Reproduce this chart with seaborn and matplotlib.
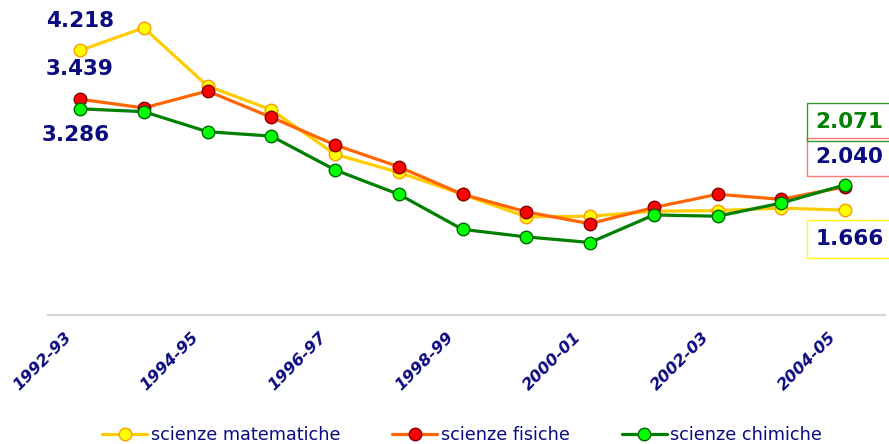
import numpy as np
import pandas as pd
import matplotlib
matplotlib.use("Agg")
import matplotlib.pyplot as plt
import matplotlib.transforms as mtransforms
import seaborn as sns

years = ["1992-93", "1993-94", "1994-95", "1995-96", "1996-97", "1997-98", "1998-99",
         "1999-00", "2000-01", "2001-02", "2002-03", "2003-04", "2004-05"]
matematiche = [4.218, 4.58, 3.65, 3.27, 2.56, 2.27, 1.92, 1.56, 1.57, 1.65, 1.66, 1.70, 1.666]
fisiche = [3.439, 3.30, 3.57, 3.15, 2.71, 2.36, 1.92, 1.64, 1.45, 1.71, 1.92, 1.84, 2.040]
chimiche = [3.286, 3.24, 2.92, 2.85, 2.31, 1.92, 1.36, 1.24, 1.15, 1.59, 1.57, 1.78, 2.071]
series_names = ["scienze matematiche", "scienze fisiche", "scienze chimiche"]

NAVY = "#0b0b80"
styles = {
    "scienze matematiche": dict(color="#ffcc00", mfc="#ffff00", mec="#ff9900"),
    "scienze fisiche": dict(color="#ff6600", mfc="#ff0000", mec="#800000"),
    "scienze chimiche": dict(color="#008000", mfc="#00ff00", mec="#006600"),
}

rows = []
for name, vals in zip(series_names, [matematiche, fisiche, chimiche]):
    for i, (y, v) in enumerate(zip(years, vals)):
        rows.append({"pos": i, "anno": y, "valore": v, "serie": name})
df = pd.DataFrame(rows)

sns.set_style("white")
plt.rcParams["font.family"] = ["DejaVu Sans"]

fig = plt.figure(figsize=(8.89, 4.44), dpi=100)
ax = fig.add_axes([48 / 889, (444 - 314.5) / 444, (885 - 48) / 889, 313 / 444])

for name in series_names:
    st = styles[name]
    sub = df[df["serie"] == name]
    sns.lineplot(data=sub, x="pos", y="valore", ax=ax, color=st["color"], linewidth=2.3,
                 marker="o", markersize=9, markerfacecolor=st["mfc"], markeredgecolor=st["mec"],
                 markeredgewidth=1.0, label=name, legend=False)

ax.set_xlim(-0.502, 12.627)
ax.set_ylim(0, 5.0)
ax.set_yticks([])
ax.set_xlabel("")
ax.set_ylabel("")
for s in ["top", "right", "left"]:
    ax.spines[s].set_visible(False)
ax.spines["bottom"].set_color("#d4d4d4")
ax.spines["bottom"].set_linewidth(1.5)

ticks = list(range(0, len(years), 2))
ax.set_xticks(ticks)
ax.set_xticklabels([years[i] for i in ticks], rotation=45, ha="right", va="center",
                   rotation_mode="anchor", fontsize=11.8, fontweight="bold",
                   fontstyle="italic", color=NAVY)
ax.tick_params(axis="x", length=0, pad=14)
shift = mtransforms.ScaledTranslation(-11 / 100, -1 / 100, fig.dpi_scale_trans)
for lab in ax.get_xticklabels():
    lab.set_transform(lab.get_transform() + shift)

# data labels
lbl_kw = dict(textcoords="offset points", ha="center", va="center", fontsize=15.5,
              fontweight="bold", annotation_clip=False)
ax.annotate(f"{matematiche[0]:.3f}", xy=(0, matematiche[0]), xytext=(0.4, 21), color=NAVY, **lbl_kw)
ax.annotate(f"{fisiche[0]:.3f}", xy=(0, fisiche[0]), xytext=(0, 22), color=NAVY, **lbl_kw)
ax.annotate(f"{chimiche[0]:.3f}", xy=(0, chimiche[0]), xytext=(-3, -19), color=NAVY, **lbl_kw)

last = len(years) - 1
ax.annotate(f"{fisiche[last]:.3f}", xy=(last, fisiche[last]), xytext=(3.3, 21.7), color=NAVY,
            bbox=dict(boxstyle="square,pad=0.42", fc="white", ec="#ff7777", lw=1), **lbl_kw)
ax.annotate(f"{chimiche[last]:.3f}", xy=(last, chimiche[last]), xytext=(3.3, 45), color="#008000",
            bbox=dict(boxstyle="square,pad=0.42", fc="none", ec="#339933", lw=1), **lbl_kw)
ax.annotate(f"{matematiche[last]:.3f}", xy=(last, matematiche[last]), xytext=(3.6, -21), color=NAVY,
            bbox=dict(boxstyle="square,pad=0.42", fc="white", ec="#ffff00", lw=1), **lbl_kw)

handles, labels = ax.get_legend_handles_labels()
leg = fig.legend(handles, labels, loc="center", bbox_to_anchor=(462 / 889, 9 / 444), ncol=3,
                 frameon=False, fontsize=12.7, handlelength=2.55, handletextpad=0.2,
                 columnspacing=2.95, borderaxespad=0, borderpad=0)
for t in leg.get_texts():
    t.set_color(NAVY)

fig.savefig("out.png", dpi=100)
